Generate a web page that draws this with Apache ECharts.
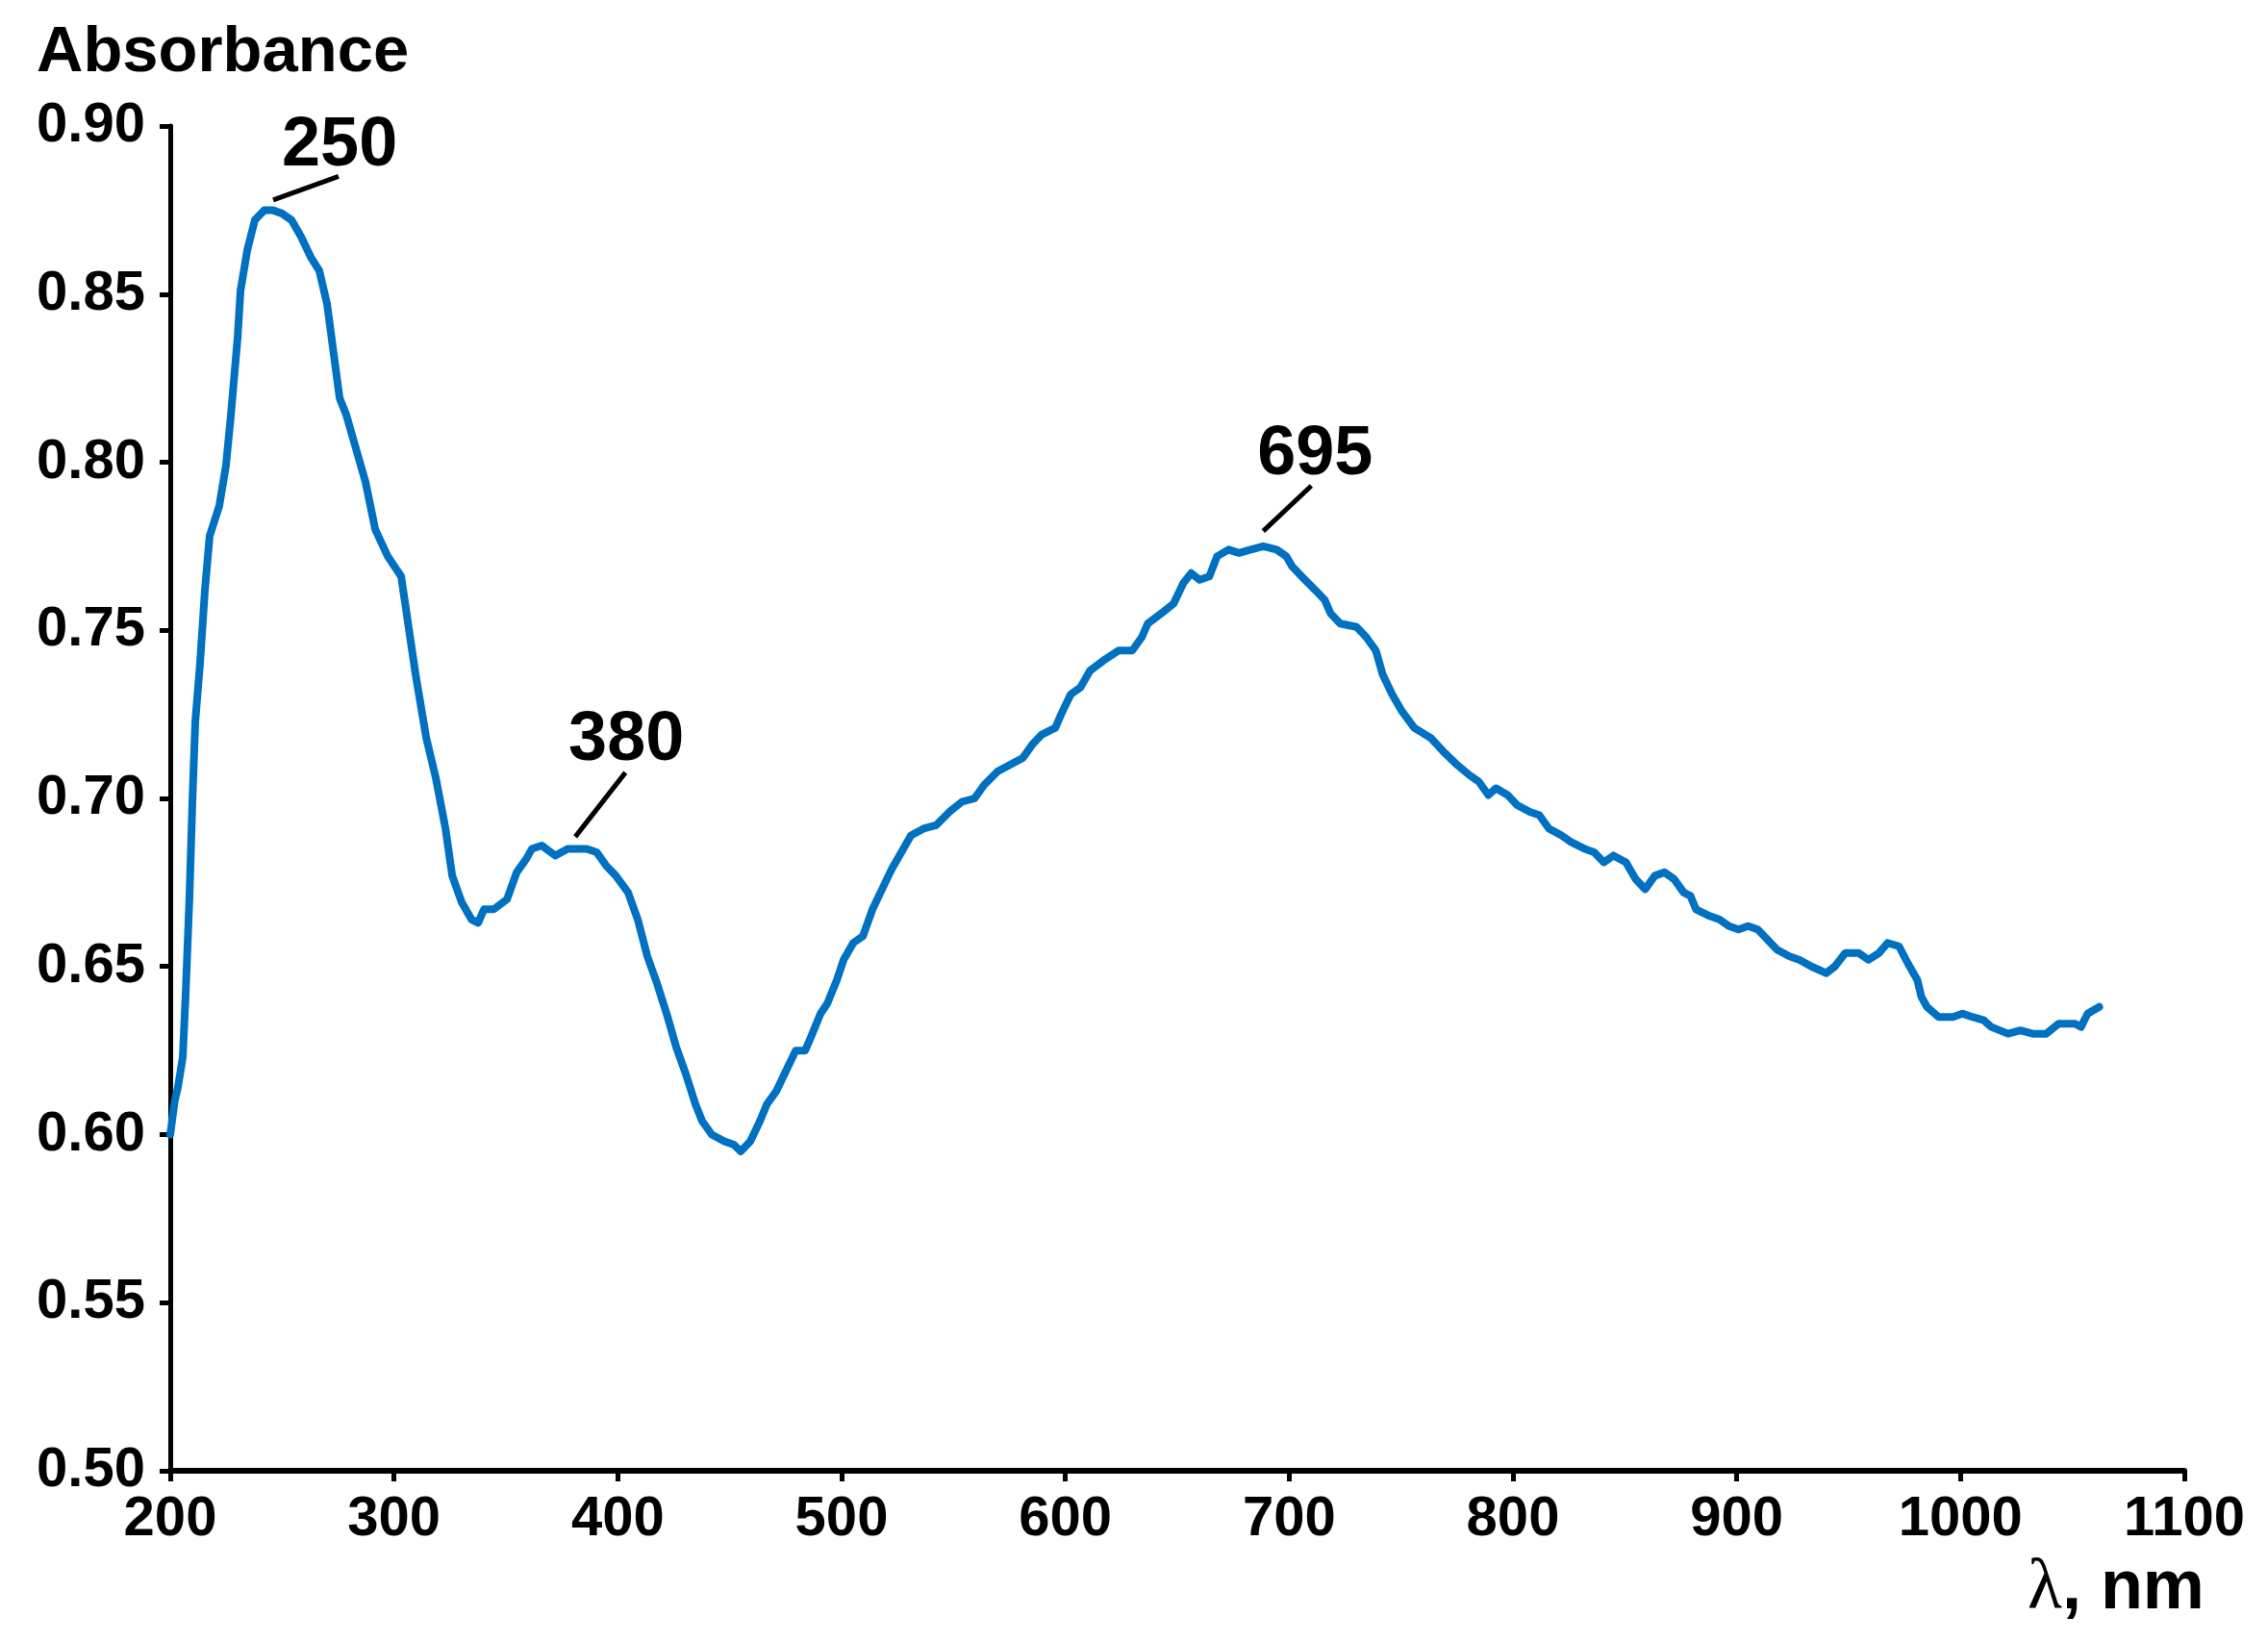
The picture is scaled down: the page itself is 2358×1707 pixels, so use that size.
<!DOCTYPE html>
<html>
<head>
<meta charset="utf-8">
<script src="https://cdn.jsdelivr.net/npm/echarts@6/dist/echarts.min.js"></script>
<style>html,body{margin:0;padding:0;background:#fff;}#c{width:2358px;height:1707px;}</style>
</head>
<body>
<div id="c"></div>
<script>
// wavelength (nm)
const wavelength = [200.0,202.0,203.4,205.6,206.9,208.6,209.9,211.2,213.3,215.5,217.6,221.9,224.9,227.1,230.1,231.4,234.4,237.8,242.1,245.6,249.9,254.2,258.5,262.8,266.6,270.1,273.1,275.7,278.7,283.0,287.3,291.6,297.2,303.2,309.6,314.4,318.7,323.0,326.0,330.3,334.6,337.6,340.2,344.5,350.5,354.8,359.1,361.6,366.0,372.0,377.6,386.2,390.5,394.8,399.1,404.6,408.9,413.2,417.5,421.8,426.1,430.4,434.7,437.7,442.0,447.6,451.9,454.9,459.2,463.5,466.6,470.9,475.2,479.5,483.7,486.3,490.6,493.6,497.9,500.9,505.2,509.5,513.8,518.1,522.4,526.7,531.0,536.6,542.2,548.2,553.8,559.4,563.7,569.7,575.3,580.9,585.2,589.5,595.5,598.1,602.4,606.7,611.0,617.0,623.9,629.9,634.2,636.8,642.8,648.4,652.7,656.2,660.0,664.3,667.8,672.9,677.6,682.8,688.4,694.4,698.7,701.3,705.6,711.6,715.9,718.5,722.8,730.1,734.4,738.7,741.7,746.0,750.3,755.9,763.2,768.8,775.0,780.4,784.7,789.0,792.4,797.6,801.9,807.5,811.8,816.1,821.7,826.0,832.0,836.3,840.6,844.9,850.5,854.8,859.1,863.4,867.7,872.0,876.3,879.3,881.8,887.9,892.2,896.5,900.8,905.1,909.4,913.7,918.0,923.6,927.9,933.4,939.9,943.8,948.5,954.5,958.8,963.5,967.4,972.5,976.4,980.7,982.5,985.0,990.2,996.6,1000.9,1005.2,1010.4,1013.8,1021.2,1026.7,1032.3,1038.3,1043.9,1051.2,1053.8,1056.8,1062.0];
// absorbance
const absorbance = [0.600,0.610,0.614,0.623,0.642,0.671,0.699,0.723,0.740,0.762,0.778,0.787,0.799,0.814,0.837,0.851,0.863,0.872,0.875,0.875,0.874,0.872,0.867,0.861,0.857,0.847,0.832,0.819,0.814,0.804,0.794,0.780,0.772,0.766,0.737,0.718,0.706,0.691,0.677,0.669,0.664,0.663,0.667,0.667,0.670,0.678,0.682,0.685,0.686,0.683,0.685,0.685,0.684,0.680,0.677,0.672,0.664,0.653,0.645,0.636,0.626,0.618,0.609,0.604,0.600,0.598,0.597,0.595,0.598,0.604,0.609,0.613,0.619,0.625,0.625,0.629,0.636,0.639,0.646,0.652,0.657,0.659,0.667,0.673,0.679,0.684,0.689,0.691,0.692,0.696,0.699,0.700,0.704,0.708,0.710,0.712,0.716,0.719,0.721,0.725,0.731,0.733,0.738,0.741,0.744,0.744,0.748,0.752,0.755,0.758,0.764,0.767,0.765,0.766,0.772,0.774,0.773,0.774,0.775,0.774,0.772,0.769,0.766,0.762,0.759,0.755,0.752,0.751,0.748,0.744,0.737,0.731,0.726,0.721,0.718,0.714,0.710,0.707,0.705,0.701,0.703,0.701,0.698,0.696,0.695,0.691,0.689,0.687,0.685,0.684,0.681,0.683,0.681,0.676,0.673,0.677,0.678,0.676,0.672,0.671,0.667,0.665,0.664,0.662,0.661,0.662,0.661,0.658,0.655,0.653,0.652,0.650,0.648,0.650,0.654,0.654,0.652,0.654,0.657,0.656,0.651,0.646,0.641,0.638,0.635,0.635,0.636,0.635,0.634,0.632,0.630,0.631,0.630,0.630,0.633,0.633,0.632,0.636,0.638];

// axis ticks
const yTicks = [0.50,0.55,0.60,0.65,0.70,0.75,0.80,0.85,0.90];
const xTicks = [200,300,400,500,600,700,800,900,1000,1100];

// peak annotations (data space)
const peakLabels = ['250','380','695'];
const peakLabelAt = [[275.7,0.894],[403.8,0.717],[711.6,0.802]];
const peakLeaderFrom = [[246.0,0.878],[381.0,0.6886],[688.4,0.7795]];
const peakLeaderTo = [[275.2,0.885],[403.4,0.7077],[709.9,0.793]];

const chart = echarts.init(document.getElementById('c'), null, {renderer:'canvas'});
const FONT = 'Liberation Sans';

const seriesData = wavelength.map((w,i)=>[w, absorbance[i]]);

const option = {
  backgroundColor:'#ffffff',
  animation:false,
  title:[
    {text:'Absorbance', left:33, top:17,
     textStyle:{fontFamily:FONT, fontWeight:'bold', fontSize:67, color:'#000'}},
    {text:'{l|λ}{b|, nm}', left:2103, top:1610,
     textStyle:{rich:{
       l:{fontFamily:'Liberation Serif', fontWeight:'normal', fontSize:74, color:'#000'},
       b:{fontFamily:FONT, fontWeight:'bold', fontSize:72, color:'#000'}
     }}}
  ],
  grid:{left:177, right:87, top:131, bottom:178, containLabel:false},
  xAxis:{
    type:'value', min:xTicks[0], max:xTicks[xTicks.length-1], interval:100,
    axisLine:{show:true, onZero:false, lineStyle:{color:'#000', width:6}},
    axisTick:{show:true, inside:false, length:11, lineStyle:{color:'#000', width:5}},
    axisLabel:{show:true, margin:22, fontFamily:FONT, fontWeight:'bold', fontSize:58, color:'#000',
      formatter:v=>String(v)},
    splitLine:{show:false}
  },
  yAxis:{
    type:'value', min:yTicks[0], max:yTicks[yTicks.length-1], interval:0.05,
    axisLine:{show:true, onZero:false, lineStyle:{color:'#000', width:5}},
    axisTick:{show:true, inside:false, length:11, lineStyle:{color:'#000', width:5}},
    axisLabel:{show:true, margin:26, fontFamily:FONT, fontWeight:'bold', fontSize:58, color:'#000',
      formatter:v=>v.toFixed(2)},
    splitLine:{show:false}
  },
  series:[{
    type:'line',
    data:seriesData,
    showSymbol:false,
    symbol:'none',
    smooth:false,
    lineStyle:{color:'#0070C0', width:8, join:'round', cap:'round'},
    z:3,
    markLine:{
      silent:true,
      symbol:['none','none'],
      label:{show:false},
      lineStyle:{color:'#000', width:5, type:'solid'},
      data: peakLeaderFrom.map((p,i)=>[{coord:p},{coord:peakLeaderTo[i]}])
    },
    markPoint:{
      silent:true,
      symbol:'circle',
      symbolSize:1,
      itemStyle:{color:'rgba(0,0,0,0)'},
      label:{show:true, position:'inside', formatter:p=>p.name,
        fontFamily:FONT, fontWeight:'bold', fontSize:72, color:'#000'},
      data: peakLabels.map((t,i)=>({name:t, coord:peakLabelAt[i]}))
    }
  }]
};
chart.setOption(option);
</script>
</body>
</html>
